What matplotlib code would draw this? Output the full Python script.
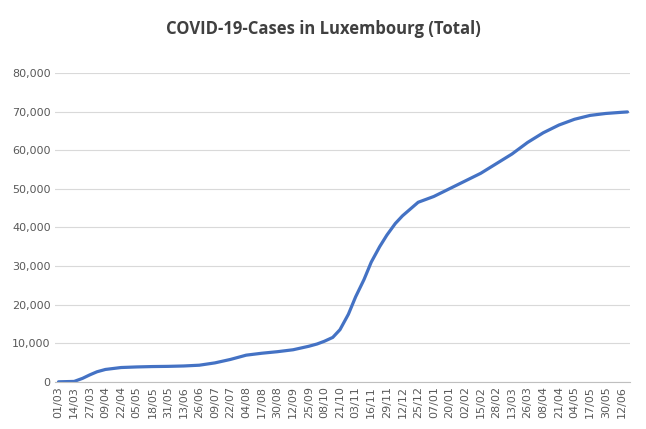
import matplotlib
matplotlib.use("Agg")
import matplotlib.pyplot as plt
import numpy as np

tick_labels = ["01/03","14/03","27/03","09/04","22/04","05/05","18/05","31/05","13/06","26/06",
               "09/07","22/07","04/08","17/08","30/08","12/09","25/09","08/10","21/10","03/11",
               "16/11","29/11","12/12","25/12","07/01","20/01","02/02","15/02","28/02","13/03",
               "26/03","08/04","21/04","04/05","17/05","30/05","12/06"]
# day offsets from 2020-03-01 and cumulative cases
days = [0,13,20,26,32,39,52,65,78,91,104,117,130,143,156,169,182,195,208,215,221,228,234,241,247,
        254,260,267,273,280,286,299,312,325,338,351,364,377,390,403,416,429,442,455,468,473]
cases = [0,100,900,1800,2600,3200,3700,3850,3950,4000,4100,4300,4900,5800,6900,7400,7800,8300,9200,
         9800,10500,11500,13500,17500,22000,26500,31000,35000,38000,41000,43000,46500,48000,50000,
         52000,54000,56500,59000,62000,64500,66500,68000,69000,69500,69800,69900]

fig = plt.figure(figsize=(6.46,4.29), dpi=100)
ax = fig.add_axes([0.085,0.11,0.89,0.72])
ax.plot(days, cases, color="#4472C4", lw=2.3, solid_capstyle="round")
ax.set_ylim(0,80000)
ax.set_xlim(-3,475)
ax.set_yticks(np.arange(0,80001,10000))
ax.set_yticklabels([f"{v:,}" for v in range(0,80001,10000)], fontsize=8, color="#595959")
ax.set_xticks(np.arange(len(tick_labels))*13)
ax.set_xticklabels(tick_labels, rotation=90, fontsize=8, color="#595959")
ax.grid(axis="y", color="#D9D9D9", lw=0.8)
ax.set_axisbelow(True)
for s in ["top","right","left"]:
    ax.spines[s].set_visible(False)
ax.spines["bottom"].set_color("#BFBFBF")
ax.tick_params(length=0, pad=3)
fig.text(0.5,0.932,"COVID-19-Cases in Luxembourg (Total)", ha="center", va="center",
         fontsize=12, color="#404040", fontweight="bold", family="Open Sans")
fig.savefig("out.png", dpi=100)
